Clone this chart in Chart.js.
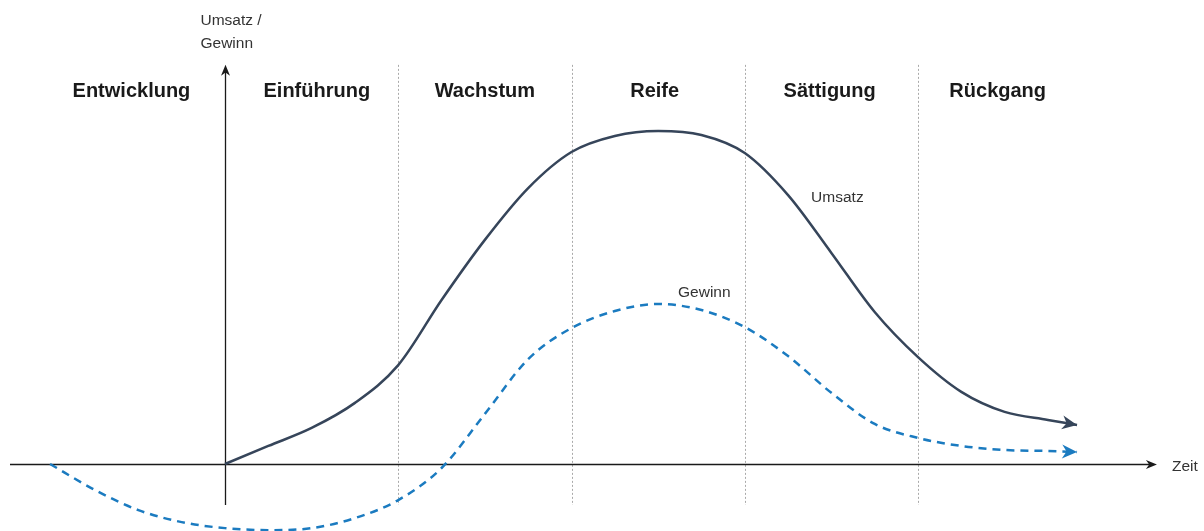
<!DOCTYPE html>
<html>
<head>
<meta charset="utf-8">
<script src="https://cdn.jsdelivr.net/npm/chart.js@4"></script>
<style>
  html, body { margin: 0; padding: 0; background: #fff; }
  #wrap { width: 1204px; height: 531px; position: relative; }
</style>
</head>
<body>
<div id="wrap"><canvas id="plc"></canvas></div>
<script>
// x = Zeit in Phasen (1 Einheit = 1 Phase), y = relative Größe (Spitze Umsatz = 100)
const phases = ['Entwicklung', 'Einführung', 'Wachstum', 'Reife', 'Sättigung', 'Rückgang'];
const phaseLabelX = [-0.54, 0.53, 1.5, 2.48, 3.49, 4.46];
const phaseBounds = [1, 2, 3, 4];

const umsatzX = [0, 0.25, 0.5, 0.75, 1, 1.25, 1.5, 1.75, 2, 2.25, 2.5, 2.75, 3, 3.25, 3.5, 3.75, 4, 4.25, 4.5, 4.75, 4.918];
const umsatzY = [0, 5.4, 10.8, 18.3, 29.6, 49.1, 67.1, 82.6, 93.4, 98.2, 99.7, 98.5, 93.1, 80.5, 63.2, 45.5, 32.0, 21.6, 15.6, 13.2, 11.7];

const gewinnX = [-1.01, -0.75, -0.5, -0.25, 0, 0.25, 0.5, 0.75, 1, 1.25, 1.5, 1.75, 2, 2.25, 2.5, 2.75, 3, 3.25, 3.5, 3.75, 4, 4.25, 4.5, 4.75, 4.918];
const gewinnY = [0, -7.8, -13.8, -17.4, -19.2, -19.8, -19.2, -16.2, -10.8, -1.2, 15.0, 31.4, 40.7, 45.8, 47.9, 46.1, 41.0, 32.3, 21.3, 12.0, 7.8, 5.4, 4.2, 3.9, 3.6];

// Achsen-Enden
const timeAxis = [-1.241, 5.379];
const valueAxis = [-12.3, 119.5];

const umsatzColor = '#36455a';
const gewinnColor = '#1b7bc0';
const textColor = '#333333';

function toPoints(xs, ys) {
    return xs.map((x, i) => ({ x: x, y: ys[i] }));
}

// Pfeilspitze, Spitze bei (x,y)
function arrowHead(ctx, x, y, angle, len, width, color) {
    ctx.save();
    ctx.translate(x, y);
    ctx.rotate(angle);
    ctx.fillStyle = color;
    ctx.beginPath();
    ctx.moveTo(0, 0);
    ctx.lineTo(-len, -width / 2);
    ctx.lineTo(-len * 0.7, 0);
    ctx.lineTo(-len, width / 2);
    ctx.closePath();
    ctx.fill();
    ctx.restore();
}

const diagramPlugin = {
    id: 'diagram',
    beforeDatasetsDraw(chart) {
        const ctx = chart.ctx;
        const xs = chart.scales.x, ys = chart.scales.y;
        ctx.save();

        // Phasengrenzen
        ctx.strokeStyle = '#aaaaaa';
        ctx.lineWidth = 1;
        ctx.setLineDash([2, 2]);
        phaseBounds.forEach(b => {
            const px = Math.round(xs.getPixelForValue(b)) + 0.5;
            ctx.beginPath();
            ctx.moveTo(px, ys.getPixelForValue(valueAxis[1]));
            ctx.lineTo(px, ys.getPixelForValue(valueAxis[0]));
            ctx.stroke();
        });
        ctx.setLineDash([]);

        // Achsen
        const x0 = Math.round(xs.getPixelForValue(0)) + 0.5;
        const y0 = Math.round(ys.getPixelForValue(0)) + 0.5;
        const xEnd = xs.getPixelForValue(timeAxis[1]);
        const yTop = ys.getPixelForValue(valueAxis[1]);
        ctx.strokeStyle = '#1a1a1a';
        ctx.lineWidth = 1.3;
        ctx.beginPath();
        ctx.moveTo(xs.getPixelForValue(timeAxis[0]), y0);
        ctx.lineTo(xEnd - 5, y0);
        ctx.moveTo(x0, ys.getPixelForValue(valueAxis[0]));
        ctx.lineTo(x0, yTop + 5);
        ctx.stroke();
        arrowHead(ctx, xEnd, y0, 0, 11, 9, '#1a1a1a');
        arrowHead(ctx, x0, yTop, -Math.PI / 2, 11, 9, '#1a1a1a');

        // Phasennamen
        ctx.fillStyle = '#1a1a1a';
        ctx.font = 'bold 20px "Liberation Sans", Arial, sans-serif';
        ctx.textAlign = 'center';
        ctx.textBaseline = 'middle';
        phases.forEach((p, i) => {
            ctx.fillText(p, xs.getPixelForValue(phaseLabelX[i]), ys.getPixelForValue(111.4));
        });

        // Achsentitel
        ctx.fillStyle = textColor;
        ctx.font = '15.5px "Liberation Sans", Arial, sans-serif';
        ctx.textAlign = 'left';
        ctx.fillText('Umsatz /', x0 - 25, 21);
        ctx.fillText('Gewinn', x0 - 25, 44);
        ctx.fillText('Zeit', xEnd + 15, y0 + 2);
        ctx.restore();
    },
    afterDatasetsDraw(chart) {
        const ctx = chart.ctx;
        const xs = chart.scales.x, ys = chart.scales.y;
        ctx.save();

        // Pfeilspitzen an den Kurvenenden
        chart.data.datasets.forEach((ds, i) => {
            const pts = chart.getDatasetMeta(i).data;
            const a = pts[pts.length - 2], b = pts[pts.length - 1];
            const ang = Math.atan2(b.y - a.y, b.x - a.x);
            arrowHead(ctx, b.x, b.y, ang, 15, 14, ds.borderColor);
        });

        // Kurvenbeschriftung
        ctx.fillStyle = textColor;
        ctx.font = '15.5px "Liberation Sans", Arial, sans-serif';
        ctx.textAlign = 'left';
        ctx.textBaseline = 'middle';
        ctx.fillText('Umsatz', xs.getPixelForValue(3.383), ys.getPixelForValue(79.6));
        ctx.fillText('Gewinn', xs.getPixelForValue(2.615), ys.getPixelForValue(51.2));
        ctx.restore();
    }
};

const ctx = document.getElementById('plc').getContext('2d');

new Chart(ctx, {
    type: 'scatter',
    data: {
        datasets: [
            {
                label: 'Umsatz',
                data: toPoints(umsatzX, umsatzY),
                showLine: true,
                borderColor: umsatzColor,
                borderWidth: 2.5,
                pointRadius: 0,
                cubicInterpolationMode: 'monotone',
                clip: false
            },
            {
                label: 'Gewinn',
                data: toPoints(gewinnX, gewinnY),
                showLine: true,
                borderColor: gewinnColor,
                borderWidth: 2.5,
                borderDash: [8, 6],
                pointRadius: 0,
                cubicInterpolationMode: 'monotone',
                clip: false
            }
        ]
    },
    options: {
        responsive: true,
        maintainAspectRatio: false,
        animation: false,
        layout: { padding: 0 },
        scales: {
            x: { type: 'linear', min: -225 / 173.25, max: 979 / 173.25, display: false },
            y: { type: 'linear', min: -67 / 3.34, max: 464 / 3.34, display: false }
        },
        plugins: {
            legend: { display: false },
            tooltip: { enabled: false }
        }
    },
    plugins: [diagramPlugin]
});
</script>
</body>
</html>
